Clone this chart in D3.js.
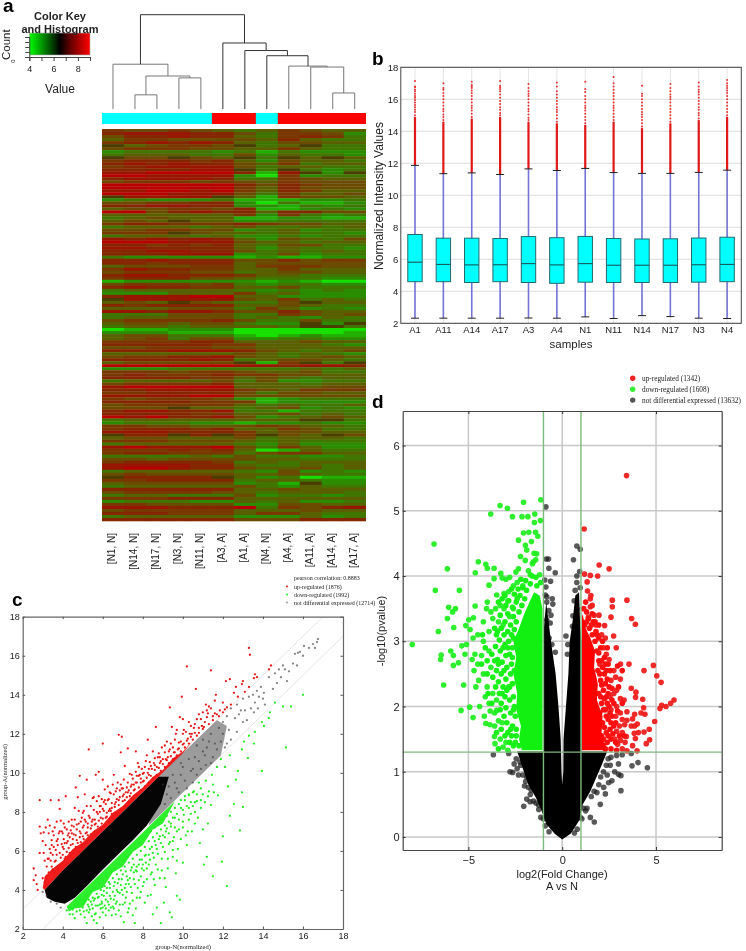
<!DOCTYPE html>
<html>
<head>
<meta charset="utf-8">
<script src="https://d3js.org/d3.v7.min.js"></script>
<style>
body { margin: 0; background: #fff; }
svg { display: block; filter: blur(0.35px); }
text { font-family: "Liberation Sans", sans-serif; fill: #222; }
text.serif { font-family: "Liberation Serif", serif; }
.tick text { fill: #222; }
</style>
</head>
<body>
<script>
// panel a: heatmap columns, one string per row, one level per column
var heatCols = ["[N1, N]","[N14, N]","[N17, N]","[N3, N]","[N11, N]","[A3, A]","[A1, A]","[N4, N]","[A4, A]","[A11, A]","[A14, A]","[A17, A]"];
var heatLevels = ["0","1","2","3","4","5","6","7","8","9","k"];
var heatColors = ["#18e000","#20b000","#2c8c00","#407400","#586000","#6a4c00","#783800","#842800","#981400","#b80000","#4a3c00"];
var heatRows = [
"655654346544","788877536652","577877436763","466555547433","678787435544",
"k45665k34k33","566655446433","233332313222","344433524332","k55k54k3k4k4",
"677767425443","787877546344","678888534433","777788k3k323","889999718k2k",
"998888206233","788887336544","566656546555","999999757655","999999647555",
"889989647644","999888536445","k8888k416554","232223111223","556677203112",
"778877221323","455665711232","995787747755","444444626323","345444112211",
"454k44223333","677666765544","344434533434","556655234233","666k54434332",
"344434223233","878787425435","999888544344","776767435533","887777424332",
"778877534343","777888235233","322222121122","778777557566","776777455555",
"455566466655","687766446444","566655345544","788777644333","677755433322",
"122222212100","566656323322","787766445333","344444323232","222444634222",
"788899442222","k88888546343","454k54335k44","767777445433","444555364232",
"887887557544","333555336545","344555343243","566667533533","455455322k2k",
"344344443kk3","011222000000","222111000001","455333101211","456355223322",
"666677444544","777776644432","556665544444","777888754345","444444543432",
"566778543454","777787345543","455555k16k3k","999999887887","222333333434",
"666566544533","676667665544","777766454344","344445352233","566667444344",
"899999444455","778888654666","667777535544","888899555555","656665212333",
"777766612222","566666434334","555k44345232","788778331333","777766445343",
"989778523454","344444444kk3","233322122322","665544565443","677767446533",
"888777645544","k77k7k6k54k5","455444534443","666555434333","344444324222",
"898889536422","666767401433","677666356644","333343533223","554555544333",
"677776343444","888877433434","899877544534","344444325232","565555445433",
"k7777k423011","667777344322","455555231k22","344444532433","777777445444",
"566665434443","344333523323","666777444444","233322434223","665555225544",
"888777936578","566666444544","777666466433","344444222423","777777555777"
];
// colour key ticks
var keyTicks = [4, 5, 6, 7, 8, 9];
var keyLabels = [4, 6, 8];
var keyStops = [["#00ff00", 4], ["#004000", 5.9], ["#000000", 6.5], ["#700000", 7.5], ["#ff0000", 9]];

// dendrogram, merges as [name, left, right, height]; leaves are heatCols indices
var dendroMerges = [
    ["m1", 1, 2, 15], ["m2", 3, 4, 33], ["m3", "m1", "m2", 35], ["m4", 0, "m3", 47.5],
    ["m5", 10, 11, 17], ["m6", 9, "m5", 44.5], ["m7", 8, "m6", 45.5], ["m8", 7, "m7", 56.5],
    ["m9", 6, "m8", 62], ["m10", 5, "m9", 70], ["root", "m4", "m10", 100]
];

// panel b
var boxSamples = ["A1","A11","A14","A17","A3","A4","N1","N11","N14","N17","N3","N4"];
var boxQ1 =     [4.6, 4.6, 4.55, 4.6, 4.55, 4.5, 4.57, 4.55, 4.55, 4.55, 4.57, 4.6];
var boxMedian = [5.82, 5.68, 5.65, 5.66, 5.73, 5.65, 5.73, 5.63, 5.63, 5.63, 5.66, 5.68];
var boxQ3 =     [7.55, 7.32, 7.32, 7.3, 7.42, 7.35, 7.43, 7.3, 7.27, 7.28, 7.33, 7.38];
var boxLow =    [2.32, 2.32, 2.32, 2.32, 2.33, 2.32, 2.4, 2.3, 2.48, 2.42, 2.32, 2.3];
var boxHigh =   [11.87, 11.35, 11.4, 11.3, 11.65, 11.55, 11.68, 11.42, 11.37, 11.37, 11.43, 11.57];
var boxDenseTop = [14.9, 14.6, 14.8, 14.9, 14.6, 14.5, 14.4, 14.6, 14.2, 14.5, 14.7, 14.9];
var boxOutliers = [
    [15,15.2,15.35,15.5,15.65,15.8,15.95,16.1,16.2,16.35,16.5,16.6,16.75,16.8,17.15],
    [14.7,14.9,15.05,15.25,15.4,15.6,15.8,16,16.2,16.4,16.6,16.7,17.0],
    [14.9,15.1,15.3,15.45,15.6,15.8,16,16.2,16.4,16.55,16.7,16.8,16.9,17.1],
    [15,15.15,15.35,15.5,15.7,15.9,16.1,16.3,16.5,16.65,16.75,16.85,17.15],
    [14.7,14.85,15.05,15.25,15.4,15.6,15.8,16,16.2,16.35,16.5,16.7,16.95],
    [14.6,14.8,15,15.2,15.35,15.5,15.7,15.9,16.1,16.3,16.5,16.8,17.05],
    [14.5,14.7,14.9,15.1,15.3,15.45,15.6,15.8,16,16.2,16.45,16.65,17.1],
    [14.7,14.9,15.1,15.3,15.45,15.6,15.8,16,16.2,16.4,16.6,16.8,17.0,17.4],
    [14.3,14.5,14.7,14.9,15.05,15.2,15.4,15.6,15.8,16,16.2,16.35,16.85],
    [14.6,14.8,15,15.2,15.4,15.6,15.8,16,16.15,16.3,16.5,16.7,16.95],
    [14.8,15,15.15,15.35,15.5,15.7,15.9,16.1,16.3,16.45,16.6,16.8,17.05],
    [15,15.2,15.4,15.6,15.8,16,16.2,16.4,16.55,16.7,16.85,17.0,17.2]
];
var boxTicks = [2, 4, 6, 8, 10, 12, 14, 16, 18];

// panel c, dense regions read as outlines, sparse points read one by one
var maTicks = [2, 4, 6, 8, 10, 12, 14, 16, 18];
var maGuides = [[[2, 3], [17, 18]], [[3, 2], [18, 17]]];
var maDenseBlack = [[3.1,4.0],[4,5],[5,6],[6,7],[7,8],[8,9],[8.8,9.8],[9.3,9.8],[8.9,8.4],[8.2,7.3],[7.5,6.55],[6.8,5.85],[6,5.05],[5.2,4.2],[4.6,3.6],[4.1,3.3],[3.6,3.4],[3.2,3.6]];
var maDenseGrey = [[8.6,9.6],[10,11],[11,12],[11.7,12.7],[12.2,12.4],[11.9,10.9],[10.8,9.8],[9.9,8.9],[9,8],[8.3,7.3]];
var maDenseUp = [[3,4.1],[3.1,4.7],[3.5,5.1],[4,5.5],[4.5,6.1],[5,6.45],[5.5,7],[6,7.35],[6.5,7.95],[7,8.3],[7.5,8.85],[8,9.25],[8.5,9.8],[9,10.15],[9.5,10.75],[10,11.1],[10.5,11.65],[10,11],[9,10],[8,9],[7,8],[6,7],[5,6],[4,5],[3.1,4.0]];
var maDenseDown = [[4.2,3.15],[5,3.95],[6,4.95],[7,5.95],[8,6.95],[9,7.95],[9.6,8.55],[9,7.4],[8.5,7.1],[8,6.3],[7.5,5.95],[7,5.2],[6.5,4.9],[6,4.1],[5.5,3.9],[5,3.1],[4.6,3.05],[4.3,2.9]];
var maUp = [[2.55,5.1],[2.55,4.5],[2.65,4.75],[2.7,4.3],[2.75,4],[2.85,5.9],[2.9,6.9],[2.85,7.25],[2.85,8.6],[3,6.5],[3.05,6.95],[3.1,5.5],[3.15,7.2],[3.25,7.6],[3.3,6.9],[3.35,6.1],[3.4,8.6],[3.4,5.9],[3.45,6.55],[3.5,7],[3.55,6.2],[3.6,7.2],[3.65,6.05],[3.7,7.5],[3.75,6.6],[3.8,8.6],[3.85,8.15],[3.85,7],[3.9,7.55],[3.95,6.35],[4,6.9],[4.05,7.4],[4.1,6.4],[4.15,8.8],[4.2,7.1],[4.25,6.5],[4.3,7.5],[4.35,6.7],[4.4,7.05],[4.45,7.6],[4.5,6.6],[4.55,7.25],[4.6,8.2],[4.65,9.25],[4.7,7.1],[4.75,8.75],[4.8,7.4],[4.85,9.85],[4.9,6.9],[4.95,7.7],[5,7.2],[5.05,8.05],[5.1,8.9],[5.15,7.5],[5.2,9.65],[5.25,7.2],[5.3,11.2],[5.3,7.8],[5.4,8.3],[5.45,7.5],[5.5,8.7],[5.55,8.1],[5.6,7.6],[5.65,9.9],[5.7,8.55],[5.75,7.9],[5.8,10.05],[5.85,8.3],[5.9,7.7],[5.95,8.65],[6,11.5],[6,9.65],[6.05,8.05],[6.1,9.15],[6.15,8.4],[6.2,7.95],[6.25,9.3],[6.3,8.65],[6.35,8.15],[6.4,8.95],[6.45,8.45],[6.5,9.4],[6.55,9.9],[6.6,8.4],[6.65,9.05],[6.7,8.65],[6.8,11.95],[6.75,9.5],[6.85,8.75],[6.9,11.05],[6.95,11.85],[6.95,9.2],[7,8.8],[7.05,9.65],[7.1,10.35],[7.15,9],[7.25,11.25],[7.25,9.5],[7.3,9.1],[7.35,9.95],[7.4,9.3],[7.5,9.7],[7.55,9.1],[7.65,11.1],[7.65,10.05],[7.7,9.5],[7.75,10.5],[7.8,9.85],[7.9,9.5],[7.95,10.2],[8,9.95],[8.1,10.3],[8.2,10.9],[8.25,11.7],[8.25,10],[8.35,10.55],[8.45,10.2],[8.5,11.1],[8.6,10.75],[8.65,12.35],[8.7,10.3],[8.8,11],[8.85,10.5],[8.95,11.3],[9,10.7],[9.1,11.05],[9.2,11.6],[9.25,10.8],[9.35,13.35],[9.35,11.2],[9.45,12.35],[9.55,11.05],[9.6,11.7],[9.7,12.2],[9.75,11.2],[9.85,12.85],[9.9,11.6],[9.95,13.9],[10,12.75],[10.05,11.5],[10.15,12.1],[10.2,15.45],[10.25,11.75],[10.3,12.6],[10.45,12],[10.55,12.3],[10.65,14.3],[10.7,12.75],[10.8,12.3],[10.9,12.75],[11,13.1],[11.05,12.35],[11.15,13.5],[11.2,12.85],[11.3,13.4],[11.4,15.25],[11.4,13.3],[11.5,12.9],[11.6,13.7],[11.65,14],[11.7,13],[11.85,13.2],[12,13.6],[12.15,14.7],[12.2,13.35],[12.35,14.8],[12.4,13.5],[12.55,14.1],[12.65,14.4],[12.75,13.9],[12.95,14.55],[13,14.7],[13.1,14.15],[13.3,16.4],[13.35,16.05],[13.3,14.4],[13.55,14.85],[13.6,15.05],[13.7,14.9],[14.3,15.3],[14.4,15.5]];
var maUpMid = [[3,4.6],[3.2,5.2],[3.3,4.9],[3.4,5.5],[3.5,5.05],[3.6,5.45],[3.7,5.8],[3.8,5.25],[3.9,5.65],[4,6.2],[4.1,5.6],[4.2,5.95],[4.3,6.15],[4.4,5.75],[4.5,6.35],[4.6,6.05],[4.7,6.55],[4.8,5.95],[4.9,6.45],[5,6.75],[5.1,6.35],[5.2,6.95],[5.3,6.55],[5.4,7.15],[5.5,6.8],[5.6,7.35],[5.7,6.9],[5.8,7.55],[5.9,7.1],[6,7.65],[6.1,7.3],[6.2,7.75],[6.3,7.5],[6.4,8.05],[6.5,7.8],[6.6,8.25],[6.7,7.9],[6.8,8.35],[6.9,8.1],[7,8.55],[7.1,8.3],[7.2,8.75],[7.3,8.5],[7.4,8.95],[7.5,8.7],[7.6,9.15],[7.7,8.9],[7.8,9.25],[7.9,9.1],[8,9.55],[8.1,9.3],[8.2,9.75],[8.3,9.5],[8.4,9.85],[8.5,9.7],[8.6,10.15],[8.7,9.9],[8.8,10.25],[8.9,10.1],[9,10.45],[9.1,10.3],[9.2,10.65],[9.3,10.5],[9.4,10.85],[9.5,10.7],[9.6,11.05],[9.7,10.9],[9.8,11.25],[9.9,11.1],[10,11.45],[10.1,11.3],[10.2,11.65],[10.3,11.5],[10.4,11.85],[10.5,11.7],[10.6,12.05],[10.7,11.9],[10.8,12.05],[11,12.25],[11.1,12.6],[11.3,12.5],[11.5,12.7],[11.6,13.05],[11.8,12.9],[12,13.1],[12.1,13.25],[3.05,5.9],[3.25,5.6],[3.45,6.3],[3.65,5.5],[3.75,6.3],[3.85,5.9],[4.05,6.6],[4.25,6.8],[4.45,6.9],[4.65,6.8],[4.85,7],[5.05,7.3],[5.25,7.4],[5.45,7.3],[5.65,7.4],[5.85,8],[6.05,8.5],[6.25,8.6],[6.45,8.2],[6.65,8.5],[6.85,9.1],[7.05,8.9],[7.25,9],[7.45,9.4],[7.65,9.5],[7.85,9.9],[8.05,10],[8.3,10.2],[8.55,10.5],[8.85,10.8],[9.1,11.4],[9.4,11.5],[9.65,12],[10,12],[10.4,12.4],[10.8,13],[11.2,13.2]];
var maUpMore = [[3.1,4.4],[3.15,6.3],[3.2,4.6],[3.3,5.6],[3.35,7.3],[3.45,5.2],[3.5,5.8],[3.55,6.8],[3.6,4.9],[3.7,6.5],[3.75,5.1],[3.8,6.9],[3.9,5.3],[3.95,7],[4,5.8],[4.05,6.1],[4.1,7.2],[4.15,5.7],[4.2,6.4],[4.3,6.9],[4.35,5.9],[4.4,6.3],[4.45,7.3],[4.5,5.9],[4.55,6.85],[4.6,7.6],[4.65,6.2],[4.7,7.35],[4.75,6.4],[4.8,8.05],[4.85,6.7],[4.9,7.5],[4.95,6.3],[5,7.95],[5.05,6.6],[5.1,7.6],[5.15,6.9],[5.2,8.3],[5.25,6.8],[5.35,7.7],[5.4,6.85],[5.5,7.6],[5.55,8.75],[5.6,7],[5.7,8],[5.75,7.25],[5.8,8.8],[5.9,8.3],[5.95,7.4],[6,8.15],[6.1,8.6],[6.15,7.7],[6.3,8.05],[6.35,9],[6.45,7.9],[6.55,8.9],[6.6,7.95],[6.7,9.2],[6.8,8.6],[6.9,9.4],[7,9.2],[7.1,8.6],[7.2,9.25],[7.35,8.8],[7.45,9.9],[7.55,9.4],[7.7,9.85],[7.8,10.3],[7.9,9.7],[8.05,9.6],[8.15,10.6],[8.3,9.9],[8.4,10.35],[8.6,10.4],[8.75,10.8],[8.9,10.6],[9.15,10.7],[9.3,11.1],[9.5,11.3],[9.8,11.55],[10.05,12.2],[10.35,12],[10.6,12.5],[10.95,12.4],[11.25,13.05]];
var maDown = [[4.2,2.95],[4.35,2.75],[4.5,3],[4.6,2.55],[4.7,2.9],[4.8,3.2],[4.9,2.75],[5,3.1],[5.1,2.6],[5.2,2.3],[5.25,3.25],[5.3,2.85],[5.4,3.4],[5.45,2.65],[5.5,3.05],[5.55,2.45],[5.6,3.55],[5.65,2.8],[5.7,2.3],[5.75,3.2],[5.8,3.65],[5.85,2.6],[5.9,3.05],[5.95,3.4],[6,2.85],[6.05,3.7],[6.1,3.2],[6.15,2.7],[6.2,3.85],[6.25,3.4],[6.3,2.95],[6.35,4.1],[6.4,3.55],[6.45,2.7],[6.5,3.15],[6.55,4.2],[6.6,3.7],[6.65,2.75],[6.7,3.4],[6.75,4.35],[6.8,2.95],[6.85,3.85],[6.9,2.65],[6.95,4.55],[7,3.25],[7.05,2.35],[7.1,4.1],[7.15,3.6],[7.2,4.7],[7.25,2.85],[7.3,4.3],[7.35,3.3],[7.4,5],[7.45,3.85],[7.5,2.7],[7.55,4.55],[7.6,2.3],[7.65,3.05],[7.7,4.95],[7.75,4.1],[7.8,5.3],[7.85,3.6],[7.9,4.7],[7.95,5.55],[8,4.2],[8.05,5],[8.1,3.35],[8.15,5.8],[8.2,4.55],[8.3,5.3],[8.35,6.1],[8.4,3.75],[8.45,4.9],[8.5,2.75],[8.55,5.65],[8.6,4.25],[8.65,6.3],[8.7,3.1],[8.75,5.05],[8.8,6.6],[8.85,4.6],[8.9,2.3],[8.95,5.6],[9,6.8],[9.05,3.35],[9.1,5.95],[9.15,4.15],[9.2,7.15],[9.25,5.1],[9.3,6.35],[9.35,2.85],[9.4,7.4],[9.45,2.6],[9.5,5.7],[9.55,6.7],[9.6,7.7],[9.65,4.85],[9.7,3.7],[9.75,6.1],[9.8,7.1],[9.85,3.5],[9.9,8.2],[10,5.4],[10,7.5],[10.1,8.6],[10.2,6.3],[10.25,7],[10.3,8.85],[10.4,7.9],[10.5,8.3],[10.55,9.05],[10.6,7.4],[10.7,8.55],[10.85,6.4],[10.9,9.2],[11,7.1],[11,8.9],[11.05,5.3],[11.15,9.6],[11.2,5.7],[11.25,7.4],[11.3,9.05],[11.45,9.9],[11.5,4.7],[11.55,9],[11.7,10.3],[11.75,8.85],[11.9,10.7],[11.95,5.45],[12,6.75],[12.1,10.3],[12.2,4.2],[12.25,9.3],[12.35,10.9],[12.35,7.8],[12.55,8.4],[12.65,9.65],[12.75,10.1],[12.85,7.05],[12.95,11.2],[12.95,9],[13,8.25],[13.05,11.6],[13.25,10.75],[13.3,11.9],[13.55,11.5],[13.6,12.1],[13.95,10.1],[13.95,12.6],[14.05,12.4],[14.3,12.8],[14.35,13.1],[14.6,13.6],[15.15,11.3],[15,13.4],[15.4,13.4],[16,14]];
var maDownMid = [[4.4,3.1],[4.6,3.2],[4.7,3.4],[4.9,3.5],[5,3.3],[5.2,3.7],[5.3,3.5],[5.4,3.9],[5.5,3.6],[5.6,4.1],[5.7,3.8],[5.8,4.3],[5.9,4],[6,4.5],[6.1,4.2],[6.2,4.7],[6.3,4.4],[6.4,4.9],[6.5,4.6],[6.6,5.1],[6.7,4.8],[6.8,5.3],[6.9,5],[7,5.5],[7.1,5.2],[7.2,5.7],[7.3,5.4],[7.4,5.9],[7.5,5.6],[7.6,6.1],[7.7,5.8],[7.8,6.4],[7.9,6],[8,6.6],[8.1,6.2],[8.2,6.8],[8.3,6.5],[8.4,7],[8.5,6.7],[8.6,7.2],[8.7,6.9],[8.8,7.4],[8.9,7.1],[9,7.6],[9.1,7.3],[9.2,7.8],[9.3,7.5],[9.4,8],[9.5,7.7],[9.6,8.2],[9.7,7.9],[9.8,8.4],[9.9,8.6],[10,8.1],[10.1,8.8],[10.2,8.3],[10.3,8.9],[10.4,8.5],[10.5,9],[10.7,8.9],[10.8,9.5],[10.9,8.6],[5.05,2.9],[5.35,3],[5.65,3.2],[5.95,3.3],[6.15,3.5],[6.35,3.7],[6.55,3.5],[6.75,3.9],[6.95,4],[7.15,4.3],[7.35,4.6],[7.55,4.9],[7.7,5.2],[7.95,5.1],[8.15,5.4],[8.3,5.8],[8.5,5.9],[8.7,6.1],[8.9,6.4],[9.1,6.7],[9.3,6.9],[9.5,6.5],[9.7,7],[10,7.2],[10.3,7.6],[10.6,8]];
var maDownMore = [[4.5,2.75],[4.75,3.3],[4.85,2.95],[5.1,3.45],[5.2,2.95],[5.3,3.15],[5.45,3.25],[5.55,3.45],[5.6,2.75],[5.75,3.6],[5.85,3.25],[5.95,3.75],[6,3.1],[6.05,3.95],[6.15,3.05],[6.2,4.1],[6.3,3.25],[6.35,4.3],[6.4,3.1],[6.5,3.9],[6.55,3.05],[6.6,4.4],[6.65,3.3],[6.7,4],[6.8,4.55],[6.85,3.25],[6.9,4.25],[7,3.75],[7,4.8],[7.1,3.35],[7.15,4.95],[7.2,3.9],[7.25,4.5],[7.3,3.05],[7.4,4.15],[7.45,5.15],[7.5,3.45],[7.55,5.3],[7.6,4.3],[7.65,5],[7.7,3.6],[7.8,4.5],[7.85,5.55],[7.9,3.9],[8,5.3],[8.05,4.4],[8.1,5.75],[8.2,5.1],[8.25,3.7],[8.35,5.55],[8.4,4.8],[8.45,6.2],[8.55,4.55],[8.6,6.5],[8.65,5.3],[8.75,5.85],[8.85,6.75],[8.95,5],[9,6.2],[9.1,4.6],[9.15,7],[9.25,5.6],[9.35,6.45],[9.4,7.25],[9.5,6.05],[9.6,7.2],[9.7,5.5],[9.8,7.6],[9.9,6.6],[10.05,7.85],[10.15,6.8],[10.3,8.2],[10.45,7],[10.6,8.5],[10.75,7.7],[10.9,8.2],[11.1,8.5],[11.25,8.8],[11.4,8.35],[11.5,9.4]];
var maGrey = [[3,3.9],[3.2,3.7],[3.4,3.4],[3.7,3.3],[3.9,3.1],[9,9.4],[9.2,8.9],[9.5,9.9],[9.7,9.2],[9.9,10.5],[10.1,9.6],[10.3,10.7],[10.5,10.2],[10.7,11.4],[10.8,10.6],[11,11.7],[11.1,10.9],[11.2,11.3],[11.4,10.5],[11.4,12],[11.6,11.5],[11.8,12.3],[11.9,11.6],[12,12.6],[12.1,11.3],[12.2,12.9],[12.3,12.2],[12.4,11.7],[12.4,13.3],[12.6,12.8],[12.7,12.1],[12.7,13.5],[12.8,13],[12.9,13.2],[13,12.6],[13,13.8],[13.1,13.2],[13.2,12.7],[13.3,13.9],[13.4,13.3],[13.5,14],[13.55,13.1],[13.6,13.6],[13.7,14.2],[13.75,13.3],[13.8,13.9],[13.9,14.4],[14,13.8],[14.05,14.1],[14.1,13.5],[14.3,14.9],[14.5,14.3],[14.6,15.1],[14.7,14.6],[14.8,15.3],[14.9,14.9],[15,15.5],[15.1,15.3],[15.2,14.7],[15.3,15.2],[15.5,15.6],[15.6,16.1],[15.7,15.5],[15.75,16.15],[15.85,16.2],[16,16],[16.05,16.5],[16.3,16.4],[16.5,16.6],[16.6,16.4],[16.7,16.7],[16.75,16.85],[9.1,8.4],[9.3,9.3],[9.4,8.7],[9.6,9.5],[9.8,9],[9.9,9.9],[10,10.3],[10.2,9.2],[10.4,10.1],[10.5,9.5],[10.6,10.8],[10.7,9.9],[10.9,10.2],[11,11.1],[11.15,10.4],[11.3,11.6],[11.5,10.8],[11.7,11.2],[12,12],[12.2,11.5]];

// panel d
var volXTicks = [-5, 0, 5];
var volYTicks = [0, 1, 2, 3, 4, 5, 6];
var volCuts = [-1, 1];
var volCutP = 1.3;
var volDenseBlack = [[0,-0.04],[0.45,0.05],[0.9,0.25],[1.1,0.5],[1.5,0.7],[1.8,0.9],[2.1,1.1],[2.4,1.31],[1.02,1.31],[1.02,3],[0.95,3.3],[0.9,3.75],[0.7,3.7],[0.55,3.3],[0.4,3],[0.33,2.5],[0.2,2],[0.07,1.5],[0.06,1],[0,0.8],[-0.04,1],[-0.08,1.5],[-0.2,2],[-0.35,2.5],[-0.6,3],[-0.85,3.6],[-0.95,3.3],[-1.02,3],[-1.02,1.31],[-2.4,1.31],[-2.1,1.05],[-1.8,0.8],[-1.4,0.6],[-1.1,0.4],[-0.85,0.2],[-0.4,0.05]];
var volDenseDown = [[-1.05,1.33],[-2.15,1.33],[-2.3,1.5],[-2.2,1.7],[-2.45,1.95],[-2.4,2.2],[-2.6,2.5],[-2.45,2.75],[-2.6,3],[-2.3,3.2],[-2.05,3.4],[-1.75,3.6],[-1.5,3.75],[-1.2,3.7],[-1.05,3.5]];
var volDenseUp = [[1.05,1.33],[2.3,1.33],[2.1,1.6],[2.15,1.85],[1.85,2.1],[1.9,2.35],[1.7,2.6],[1.75,2.85],[1.5,3.05],[1.25,3.2],[1.1,3.4],[1.05,3.4]];
var volUp = [[3.43,5.54],[1.17,4.72],[1.97,4.17],[2.5,4.11],[1.19,4.03],[1.5,4.01],[1.89,4],[1.33,3.91],[1.35,3.77],[1.53,3.7],[1.5,3.65],[2.67,3.63],[3.45,3.63],[2.67,3.53],[1.5,3.53],[2.6,3.37],[3.7,3.35],[3.9,3.26],[2.26,3.24],[2.74,3.08],[2.88,2.9],[1.96,3.4],[1.7,3.4],[1.4,3.37],[2.1,3.1],[1.8,3.25],[2.2,2.9],[2.35,2.8],[2.5,2.72],[3.11,2.65],[3.56,2.65],[4.86,2.63],[2.75,2.55],[4.36,2.55],[5.04,2.47],[2.85,2.45],[3.1,2.42],[5.27,2.37],[2.6,2.4],[3.68,2.28],[2.9,2.25],[2.75,2.2],[3.93,2.22],[3.91,2.14],[3.1,2.12],[3.3,2.1],[2.55,2.15],[4.29,2.11],[5.96,2.1],[5.78,2.05],[5.3,2.02],[5.53,2],[5.21,1.97],[4.34,1.98],[3.45,1.92],[2.9,2],[2.6,1.95],[3.1,1.9],[4.2,1.9],[4.41,1.88],[3.86,1.88],[3.75,1.81],[3.2,1.8],[2.85,1.85],[4.93,1.77],[3.45,1.79],[3.33,1.72],[4,1.73],[3.68,1.7],[3.86,1.7],[3.05,1.7],[4.64,1.65],[4.36,1.61],[4.06,1.6],[3.84,1.59],[3.42,1.54],[3.2,1.6],[2.9,1.62],[3.9,1.51],[4.66,1.49],[3.1,1.48],[3.35,1.45],[4.48,1.43],[3.75,1.4],[2.95,1.42],[3.45,1.32],[3.99,1.32],[3.2,1.35],[2.8,1.5],[2.3,3.05],[1.6,3.55],[2,2.65]];
var volUpMid = [[2.2,1.4],[2.4,1.45],[2.6,1.5],[2.1,1.55],[2.35,1.6],[2.55,1.65],[2.75,1.7],[2.15,1.75],[2.45,1.8],[2.65,1.85],[2,1.9],[2.3,1.95],[2.5,2],[2.75,2.05],[2.1,2.05],[2.35,2.15],[1.95,2.2],[2.2,2.25],[2.5,2.3],[2.4,2.42],[2.05,2.4],[2.25,2.5],[2.55,2.55],[1.9,2.55],[2.15,2.6],[2.45,2.65],[1.95,2.7],[2.25,2.75],[1.85,2.85],[2.05,2.9],[1.75,3],[1.95,3.05],[1.6,3.1],[1.8,3.15],[1.45,3.2],[1.65,3.3],[1.3,3.45],[1.25,3.6],[1.15,3.5],[1.2,3.25],[2.3,1.35],[2.6,1.35],[2.9,1.33],[2.85,1.45],[1.6,3.42],[2.2,1.5],[2.45,1.55],[2.7,1.58],[2.25,1.68],[2.6,1.75],[2.85,1.75],[2.35,1.85],[2.55,1.9],[2.2,1.95],[2.4,2.05],[2.65,2.1],[2.25,2.12],[2.05,2.15],[2.45,2.2],[2.3,2.35],[2.1,2.33],[2.65,2.28],[2,2.5],[2.35,2.55],[2.1,2.7],[1.95,2.82],[2.4,2.9],[2.15,3],[1.85,3.1],[1.95,3.25],[1.55,3.25],[1.4,3.35],[2.3,2.65],[1.75,3.3],[1.3,3.3],[3,2.3],[3.2,2.55],[2.95,2.62],[3.3,1.55],[3.05,1.55],[2.95,1.93],[3.2,2.05]];
var volDown = [[-7.99,2.95],[-6.83,4.49],[-6.12,4.11],[-6.76,3.78],[-5.48,3.78],[-6.05,3.52],[-5.69,3.5],[-5.84,3.45],[-6.12,3.35],[-6.6,3.15],[-5.78,3.21],[-5.14,3.24],[-4.98,3.33],[-4.73,3.36],[-4.64,3.54],[-4.91,3.18],[-3.99,3.6],[-4.03,3.5],[-3.49,3.71],[-3.1,3.73],[-2.86,3.76],[-3.63,4.12],[-3.99,4.12],[-4.07,4.18],[-4.47,4.22],[-4.63,4.05],[-3.81,4.95],[-3.31,5.08],[-2.92,5.04],[-2.06,5.13],[-1.14,5.17],[-2.65,4.91],[-2.14,4.91],[-1.83,4.91],[-1.46,4.95],[-1.16,4.85],[-1.48,4.82],[-2.06,4.66],[-1.78,4.67],[-1.42,4.67],[-1.3,4.61],[-2.33,4.55],[-1.64,4.53],[-1.96,4.47],[-1.89,4.4],[-2.22,4.3],[-1.97,4.24],[-1.5,4.35],[-1.36,4.34],[-1.41,4.25],[-1.59,4.19],[-1.53,4.22],[-1.8,4.08],[-2.33,4.11],[-2.47,4.06],[-3.27,4.04],[-3.2,3.97],[-3,3.95],[-2.8,3.98],[-3.63,3.96],[-3.9,3.86],[-2.6,3.85],[-2.4,3.9],[-2.1,3.85],[-1.7,4.02],[-1.2,4.02],[-3.55,3.5],[-3.3,3.55],[-3.1,3.5],[-2.9,3.62],[-3.8,3.45],[-4.2,3.3],[-4.5,3.1],[-4.2,3],[-3.9,3.15],[-3.7,3.35],[-3.4,3.3],[-3.15,3.25],[-2.6,3.5],[-2.8,3.38],[-4.75,3.05],[-5.1,2.95],[-5.35,2.93],[-6.48,2.72],[-6.45,2.79],[-6.32,2.33],[-5.94,2.85],[-5.8,2.78],[-5.8,2.63],[-5.53,2.67],[-5.18,2.8],[-5.25,2.33],[-5.39,1.94],[-4.93,1.99],[-4.75,1.83],[-4.15,1.85],[-4.07,1.74],[-3.84,1.93],[-3.49,1.94],[-3.61,1.54],[-3.58,1.43],[-3.3,1.5],[-3.15,1.38],[-3.6,1.7],[-3.85,1.72],[-3.4,1.78],[-3.5,2.1],[-3.9,2.05],[-4.1,2.15],[-4.4,2],[-4.6,2.3],[-4.45,2.4],[-4.7,2.55],[-4.5,2.65],[-4.3,2.78],[-4.65,2.8],[-4.2,2.5],[-4,2.3],[-3.8,2.6],[-3.9,2.85],[-3.7,2.2],[-3.6,1.9],[-4.8,2.72],[-2.9,1.33],[-3,1.45],[-3.2,1.75]];
var volDownMid = [[-2.3,1.4],[-2.5,1.45],[-2.7,1.55],[-2.9,1.6],[-2.45,1.65],[-2.65,1.7],[-2.95,1.75],[-3.1,1.85],[-2.5,1.85],[-2.75,1.9],[-3,1.98],[-2.55,2],[-3.25,2.05],[-2.8,2.1],[-3.05,2.15],[-2.6,2.15],[-3.35,2.2],[-2.85,2.3],[-3.15,2.3],[-2.65,2.35],[-3.4,2.38],[-3,2.42],[-2.75,2.5],[-3.25,2.5],[-3.5,2.55],[-2.95,2.6],[-2.7,2.65],[-3.2,2.68],[-3.45,2.72],[-3,2.78],[-2.8,2.8],[-3.3,2.85],[-2.65,2.9],[-3.55,2.92],[-3.05,2.95],[-2.85,3],[-3.35,3.02],[-2.6,3.05],[-3.1,3.1],[-2.9,3.15],[-2.55,3.18],[-3.25,3.2],[-2.75,3.25],[-3.05,3.3],[-2.45,3.3],[-2.6,3.38],[-2.9,3.42],[-2.3,3.45],[-2.65,3.52],[-2.15,3.55],[-2.45,3.6],[-2.85,3.62],[-2,3.65],[-2.25,3.7],[-2.55,3.72],[-1.9,3.78],[-2.1,3.82],[-2.35,3.8],[-1.7,3.88],[-1.95,3.93],[-2.2,3.95],[-1.4,3.98],[-1.6,4],[-1.15,3.9],[-1.35,3.85],[-3.55,2.3],[-3.7,2.45],[-3.6,2.7],[-3.75,2.8],[-3.5,3.1],[-3.6,3.2],[-3.3,3.4],[-3,3.55],[-3.2,3.65],[-4,2.7],[-4.1,2.9],[-4.25,3.1],[-4.3,2.65],[-4,2.5],[-3.95,2.2],[-3.75,2.05],[-3.3,1.95],[-3.2,2.2],[-3.1,2.55],[-3.4,2.65],[-3.15,2.9],[-3.45,3.15],[-2.9,2.9],[-2.7,3.1],[-2.8,2.3],[-2.6,1.95],[-2.45,1.55],[-2.75,1.65],[-3.05,1.55],[-3.25,1.65],[-2.8,1.45],[-2.6,1.4],[-3.5,1.6],[-3.4,1.35],[-2.55,2.55],[-2.95,2.25],[-2.65,2.75],[-2.4,3.65],[-3.05,3.7],[-2.7,3.8],[-3.4,3.6]];
var volGrey = [[-0.87,5.06],[0.78,4.46],[0.96,4.41],[0.6,4.25],[-0.85,4.26],[-0.73,4.26],[-0.71,4.12],[-0.37,4.05],[-0.93,3.94],[-0.62,3.92],[-0.87,3.83],[-0.9,3.71],[-0.82,3.68],[-0.53,3.65],[-0.82,3.6],[-0.5,3.57],[-0.71,3.47],[-0.6,3.4],[-0.82,3.33],[-0.64,3.28],[-0.37,2.83],[-0.55,2.95],[-0.7,3.05],[0.2,3.08],[0.55,3.23],[0.57,3.39],[0.78,4],[0.93,4.07],[0.78,3.9],[0.96,3.82],[0.69,3.78],[0.64,3.62],[0.78,3.5],[0.3,2.95],[0.28,2.8],[-3.67,1.26],[-2.85,1.28],[-2.56,1.12],[-2.78,1],[-2.64,0.99],[-2.33,0.95],[-1.89,0.92],[-2.01,0.78],[-1.8,0.76],[-1.89,0.58],[-2.05,0.47],[-1.71,0.54],[-1.53,0.55],[-1.26,0.49],[-1.14,0.3],[3.72,1.09],[4.04,1.14],[4.54,1.06],[3.68,1.28],[3.13,0.71],[3,1.12],[3.13,0.94],[2.8,1],[2.56,1.1],[3,0.96],[2.47,0.83],[2.65,0.86],[2.21,0.76],[2.3,0.66],[2.03,0.5],[1.85,0.68],[1.5,0.3],[1.71,0.23],[1.32,0.44],[1.14,0.44],[0.96,0.3],[2.9,1.25],[3.2,1.26],[-2.45,1.2],[-2.25,1.15],[-2.4,1.05],[-2.1,0.95],[-2.2,1.1],[-1.95,0.85],[-1.65,0.72],[-1.7,0.65],[-1.4,0.52],[-1.25,0.42],[-1,0.28],[-0.9,0.17],[-0.7,0.08],[2.45,1.2],[2.6,1.22],[2.35,1.1],[2.2,1],[2.4,0.95],[2.05,0.92],[1.95,0.8],[1.7,0.7],[1.55,0.62],[1.25,0.4],[1.05,0.28],[0.8,0.12],[0.65,0.06]];

var legendRows = { c: [["up-regulated (1876)", "#e01818"], ["down-regulated (1992)", "#22ee22"], ["not differential expressed (12714)", "#9a9a9a"]],
                   d: [["up-regulated (1342)", "#ee2222"], ["down-regulated (1608)", "#33ee33"], ["not differential expressed (13632)", "#555555"]] };

var svg = d3.select("body").append("svg").attr("width", 746).attr("height", 951);
var defs = svg.append("defs");
defs.append("filter").attr("id", "soft").append("feGaussianBlur").attr("stdDeviation", "0.3 0.5");

drawHeatmap();
drawBoxes();
drawScatter();
drawVolcano();
drawLetters();

function drawLetters(){
    var letters = [["a", 3, 12], ["b", 372, 65], ["c", 12, 606], ["d", 372, 408]];
    svg.selectAll(".letter").data(letters).enter().append("text")
        .attr("class", "letter")
        .attr("x", function(d){ return d[1]; })
        .attr("y", function(d){ return d[2]; })
        .style("font-size", "19px").style("font-weight", "bold").style("fill", "#000")
        .text(function(d){ return d[0]; });
}

function drawHeatmap(){
    var x = d3.scaleBand().domain(heatCols).range([102, 365.7]);
    var y = d3.scaleBand().domain(d3.range(heatRows.length)).range([129, 521]);
    var color = d3.scaleOrdinal().domain(heatLevels).range(heatColors);
    var g = svg.append("g");

    var cells = g.append("g").attr("filter", "url(#soft)");
    var row = cells.selectAll(".row").data(heatRows).enter().append("g")
        .attr("class", "row")
        .attr("transform", function(d, i){ return "translate(0," + y(i) + ")"; });
    row.selectAll("rect").data(function(d){ return d.split(""); }).enter().append("rect")
        .attr("x", function(d, i){ return x(heatCols[i]); })
        .attr("width", x.bandwidth() + 0.3)
        .attr("height", y.bandwidth() + 0.3)
        .attr("fill", function(d){ return color(d); });

    // class colour bar
    g.selectAll(".side").data(heatCols).enter().append("rect")
        .attr("x", function(d){ return x(d); })
        .attr("y", 113).attr("height", 11)
        .attr("width", x.bandwidth() + 0.3)
        .attr("fill", function(d){ return d.charAt(1) == "N" ? "#00ffff" : "#ff0000"; });

    // column labels
    g.selectAll(".collab").data(heatCols).enter().append("text")
        .attr("class", "collab")
        .attr("transform", function(d){ return "translate(" + (x(d) + x.bandwidth() / 2 + 2) + ",533) rotate(-90)"; })
        .attr("text-anchor", "end")
        .style("font-size", "10px")
        .text(function(d){ return d; });

    // dendrogram
    var h = d3.scaleLinear().domain([0, 100]).range([109, 14.7]);
    var nodes = {};
    heatCols.forEach(function(c, i){ nodes[i] = { x: x(c) + x.bandwidth() / 2, h: 0 }; });
    dendroMerges.forEach(function(m){
        var a = nodes[m[1]], b = nodes[m[2]];
        g.append("path")
            .attr("d", "M" + a.x + "," + h(a.h) + "V" + h(m[3]) + "H" + b.x + "V" + h(b.h))
            .attr("fill", "none")
            .attr("stroke", m[3] > 50 ? "#333" : "#777")
            .attr("stroke-width", 1);
        nodes[m[0]] = { x: (a.x + b.x) / 2, h: m[3] };
    });

    // colour key
    var kx = d3.scaleLinear().domain([4, 9]).range([29.3, 90]);
    var grad = defs.append("linearGradient").attr("id", "keyGrad");
    grad.selectAll("stop").data(keyStops).enter().append("stop")
        .attr("offset", function(d){ return (d[1] - 4) / 5; })
        .attr("stop-color", function(d){ return d[0]; });
    g.append("rect").attr("x", 29.3).attr("y", 33).attr("width", 60.7).attr("height", 22)
        .attr("fill", "url(#keyGrad)");
    g.append("rect").attr("x", 29.3).attr("y", 33).attr("width", 60.7).attr("height", 22)
        .attr("fill", "none").attr("stroke", "#aaa").attr("stroke-width", 0.6);

    var keyAxis = d3.axisBottom(kx).tickValues(keyTicks).tickSize(4)
        .tickFormat(function(d){ return keyLabels.indexOf(d) >= 0 ? d : ""; });
    var ka = g.append("g").attr("transform", "translate(0,57)").call(keyAxis);
    ka.select(".domain").attr("stroke", "#444");
    ka.selectAll(".tick line").attr("stroke", "#444");
    ka.selectAll("text").style("font-size", "9px").attr("dy", "0.85em");

    var ky = d3.scaleLinear().domain([0, 4]).range([57, 37]);
    var kyAxis = d3.axisLeft(ky).ticks(4).tickSize(4).tickFormat("");
    var kb = g.append("g").attr("transform", "translate(29.3,0)").call(kyAxis);
    kb.select(".domain").attr("stroke", "#444");
    kb.selectAll(".tick line").attr("stroke", "#444");

    g.append("text").attr("x", 60).attr("y", 20).attr("text-anchor", "middle")
        .style("font-size", "11px").style("font-weight", "bold").text("Color Key");
    g.append("text").attr("x", 60).attr("y", 33).attr("text-anchor", "middle")
        .style("font-size", "11px").style("font-weight", "bold").text("and Histogram");
    g.append("text").attr("x", 60).attr("y", 93).attr("text-anchor", "middle")
        .style("font-size", "12px").text("Value");
    g.append("text").attr("transform", "translate(10,60) rotate(-90)")
        .style("font-size", "11.5px").text("Count");
    g.append("text").attr("transform", "translate(14.5,61) rotate(-90)")
        .attr("text-anchor", "middle").style("font-size", "6px").text("0");
}

function drawBoxes(){
    var x = d3.scaleBand().domain(boxSamples).range([400.8, 741.3]);
    var y = d3.scaleLinear().domain([2, 18]).range([323.3, 67.3]);
    var g = svg.append("g");
    var bw = 14.4;
    function cx(i){ return x(boxSamples[i]) + x.bandwidth() / 2; }

    g.selectAll(".gy").data(boxTicks).enter().append("line")
        .attr("x1", 400.8).attr("x2", 741.3)
        .attr("y1", function(d){ return y(d); }).attr("y2", function(d){ return y(d); })
        .attr("stroke", "#dcdcdc");
    g.selectAll(".gx").data(boxSamples).enter().append("line")
        .attr("x1", function(d, i){ return cx(i); }).attr("x2", function(d, i){ return cx(i); })
        .attr("y1", 67.3).attr("y2", 323.3)
        .attr("stroke", "#e4e4e4");

    boxSamples.forEach(function(s, i){
        var c = cx(i);
        // outliers
        g.append("line").attr("x1", c).attr("x2", c)
            .attr("y1", y(boxHigh[i])).attr("y2", y(boxDenseTop[i]))
            .attr("stroke", "#e01818").attr("stroke-width", 2.2);
        g.selectAll(".out" + i).data(boxOutliers[i]).enter().append("circle")
            .attr("cx", c).attr("cy", function(d){ return y(d); }).attr("r", 1)
            .attr("fill", "#e83030");
        // whiskers
        g.append("line").attr("x1", c).attr("x2", c).attr("y1", y(boxLow[i])).attr("y2", y(boxHigh[i]))
            .attr("stroke", "#7474d8").attr("stroke-width", 1.6);
        [boxLow[i], boxHigh[i]].forEach(function(v){
            g.append("line").attr("x1", c - 4).attr("x2", c + 4).attr("y1", y(v)).attr("y2", y(v))
                .attr("stroke", "#222").attr("stroke-width", 1);
        });
        // box
        g.append("rect").attr("x", c - bw / 2).attr("width", bw)
            .attr("y", y(boxQ3[i])).attr("height", y(boxQ1[i]) - y(boxQ3[i]))
            .attr("fill", "#00ffff").attr("stroke", "#206a70").attr("stroke-width", 1);
        g.append("line").attr("x1", c - bw / 2).attr("x2", c + bw / 2)
            .attr("y1", y(boxMedian[i])).attr("y2", y(boxMedian[i]))
            .attr("stroke", "#16585c").attr("stroke-width", 1.1);
    });

    var yAxis = d3.axisLeft(y).tickValues(boxTicks).tickSize(0).tickPadding(2.5);
    var ya = g.append("g").attr("transform", "translate(400.8,0)").call(yAxis);
    ya.select(".domain").remove();
    ya.selectAll("text").style("font-size", "9.5px");
    var xAxis = d3.axisBottom(x).tickSize(0).tickPadding(3);
    var xa = g.append("g").attr("transform", "translate(0,323.3)").call(xAxis);
    xa.select(".domain").remove();
    xa.selectAll("text").style("font-size", "9.5px");
    g.append("rect").attr("x", 400.8).attr("y", 67.3).attr("width", 340.5).attr("height", 256)
        .attr("fill", "none").attr("stroke", "#444").attr("stroke-width", 1);

    g.append("text").attr("x", 571).attr("y", 348).attr("text-anchor", "middle")
        .style("font-size", "11.5px").text("samples");
    g.append("text").attr("transform", "translate(383,196) rotate(-90)").attr("text-anchor", "middle")
        .style("font-size", "12px").text("Normalized Intensity Values");
}

function drawScatter(){
    var x = d3.scaleLinear().domain([2, 18]).range([22.7, 343]);
    var y = d3.scaleLinear().domain([2, 18]).range([929, 616.7]);
    var g = svg.append("g");
    var poly = d3.line().x(function(d){ return x(d[0]); }).y(function(d){ return y(d[1]); });

    g.selectAll(".guide").data(maGuides).enter().append("path")
        .attr("d", poly).attr("stroke", "#ddd").attr("fill", "none").attr("stroke-width", 0.8);

    function dots(data, color, op){
        g.append("g").selectAll("circle").data(data).enter().append("circle")
            .attr("cx", function(d){ return x(d[0]); })
            .attr("cy", function(d){ return y(d[1]); })
            .attr("r", 1.15).attr("fill", color).attr("fill-opacity", op);
    }
    function blob(data, color, op){
        g.append("path").attr("d", poly(data) + "Z").attr("fill", color).attr("fill-opacity", op);
    }
    blob(maDenseUp, "#f01010", 0.95);
    blob(maDenseDown, "#22ee22", 0.95);
    blob(maDenseGrey, "#222", 0.45);
    blob(maDenseBlack, "#050505", 1);
    dots(maGrey, "#333", 0.6);
    dots(maUp, "#e81818", 1);
    dots(maUpMid, "#e81818", 1);
    dots(maUpMore, "#e81818", 1);
    dots(maDown, "#22ee22", 1);
    dots(maDownMid, "#22ee22", 1);
    dots(maDownMore, "#22ee22", 1);

    var ax = [
        d3.axisBottom(x).tickValues(maTicks).tickSizeInner(-2.5).tickSizeOuter(0).tickPadding(4),
        d3.axisLeft(y).tickValues(maTicks).tickSizeInner(-2.5).tickSizeOuter(0).tickPadding(3)
    ];
    var xa = g.append("g").attr("transform", "translate(0,929)").call(ax[0]);
    var ya = g.append("g").attr("transform", "translate(22.7,0)").call(ax[1]);
    var xb = g.append("g").attr("transform", "translate(0,616.7)")
        .call(d3.axisTop(x).tickValues(maTicks).tickSizeInner(-2.5).tickSizeOuter(0).tickFormat(""));
    var yb = g.append("g").attr("transform", "translate(343,0)")
        .call(d3.axisRight(y).tickValues(maTicks).tickSizeInner(-2.5).tickSizeOuter(0).tickFormat(""));
    [xa, ya, xb, yb].forEach(function(a){
        a.select(".domain").attr("stroke", "#666").attr("stroke-width", 1.2);
        a.selectAll(".tick line").attr("stroke", "#555");
        a.selectAll("text").style("font-size", "9px");
    });

    g.append("text").attr("class", "serif").attr("x", 183).attr("y", 949).attr("text-anchor", "middle")
        .style("font-size", "6.5px").text("group-N(normalized)");
    g.append("text").attr("class", "serif").attr("transform", "translate(7,772) rotate(-90)").attr("text-anchor", "middle")
        .style("font-size", "6.5px").text("group-A(normalized)");

    // legend
    g.append("text").attr("class", "serif").attr("x", 294).attr("y", 580)
        .style("font-size", "6px").text("pearson correlation: 0.8883");
    var rows = g.selectAll(".lg").data(legendRows.c).enter().append("g")
        .attr("transform", function(d, i){ return "translate(0," + (586.5 + i * 8) + ")"; });
    rows.append("circle").attr("cx", 287).attr("r", 1).attr("fill", function(d){ return d[1]; });
    rows.append("text").attr("class", "serif").attr("x", 294).attr("y", 2)
        .style("font-size", "6px").text(function(d){ return d[0]; });
}

function drawVolcano(){
    var x = d3.scaleLinear().domain([-8.5, 8.5]).range([402.7, 721.7]);
    var y = d3.scaleLinear().domain([-0.2, 6.53]).range([850, 411]);
    var g = svg.append("g");
    var poly = d3.line().x(function(d){ return x(d[0]); }).y(function(d){ return y(d[1]); });

    g.selectAll(".gx").data(volXTicks).enter().append("line")
        .attr("x1", function(d){ return x(d); }).attr("x2", function(d){ return x(d); })
        .attr("y1", 411).attr("y2", 850).attr("stroke", "#c8c8c8").attr("stroke-width", 1.5);
    g.selectAll(".gy").data(volYTicks).enter().append("line")
        .attr("y1", function(d){ return y(d); }).attr("y2", function(d){ return y(d); })
        .attr("x1", 402.7).attr("x2", 721.7).attr("stroke", "#c8c8c8").attr("stroke-width", 1.5);

    function dots(data, color, op){
        g.append("g").selectAll("circle").data(data).enter().append("circle")
            .attr("cx", function(d){ return x(d[0]); })
            .attr("cy", function(d){ return y(d[1]); })
            .attr("r", 2.8).attr("fill", color).attr("fill-opacity", op);
    }
    function blob(data, color){
        g.append("path").attr("d", poly(data) + "Z").attr("fill", color);
    }
    dots(volGrey, "#222", 0.75);
    blob(volDenseBlack, "#000");
    dots(volDown, "#22ee22", 0.95);
    dots(volDownMid, "#18f018", 1);
    blob(volDenseDown, "#12f012");
    dots(volUp, "#ee1c1c", 0.95);
    dots(volUpMid, "#ff1010", 1);
    blob(volDenseUp, "#ff0000");

    g.selectAll(".cx").data(volCuts).enter().append("line")
        .attr("x1", function(d){ return x(d); }).attr("x2", function(d){ return x(d); })
        .attr("y1", 411).attr("y2", 850).attr("stroke", "#7cba7c").attr("stroke-width", 1.4);
    g.append("line").attr("x1", 402.7).attr("x2", 721.7).attr("y1", y(volCutP)).attr("y2", y(volCutP))
        .attr("stroke", "#7cba7c").attr("stroke-width", 1.4);

    var xa = g.append("g").attr("transform", "translate(0,850)")
        .call(d3.axisBottom(x).tickValues(volXTicks).tickSizeInner(-3).tickSizeOuter(0).tickPadding(6).tickFormat(d3.format("d")));
    var ya = g.append("g").attr("transform", "translate(402.7,0)")
        .call(d3.axisLeft(y).tickValues(volYTicks).tickSizeInner(-3).tickSizeOuter(0).tickPadding(3).tickFormat(d3.format("d")));
    var xb = g.append("g").attr("transform", "translate(0,411)")
        .call(d3.axisTop(x).tickValues(volXTicks).tickSizeInner(-3).tickSizeOuter(0).tickFormat(""));
    var yb = g.append("g").attr("transform", "translate(721.7,0)")
        .call(d3.axisRight(y).tickValues(volYTicks).tickSizeInner(-3).tickSizeOuter(0).tickFormat(""));
    [xa, ya, xb, yb].forEach(function(a){
        a.select(".domain").attr("stroke", "#444").attr("stroke-width", 1.2);
        a.selectAll(".tick line").attr("stroke", "#333");
        a.selectAll("text").style("font-size", "11px");
    });

    g.append("text").attr("x", 562).attr("y", 878).attr("text-anchor", "middle")
        .style("font-size", "11px").text("log2(Fold Change)");
    g.append("text").attr("x", 562).attr("y", 890).attr("text-anchor", "middle")
        .style("font-size", "11px").text("A vs N");
    g.append("text").attr("transform", "translate(385,631) rotate(-90)").attr("text-anchor", "middle")
        .style("font-size", "11px").text("-log10(pvalue)");

    var rows = g.selectAll(".lg").data(legendRows.d).enter().append("g")
        .attr("transform", function(d, i){ return "translate(0," + (378.3 + i * 10.9) + ")"; });
    rows.append("circle").attr("cx", 632.7).attr("r", 2.7).attr("fill", function(d){ return d[1]; });
    rows.append("text").attr("class", "serif").attr("x", 642).attr("y", 2.5)
        .style("font-size", "7.3px").text(function(d){ return d[0]; });
}
</script>
</body>
</html>
